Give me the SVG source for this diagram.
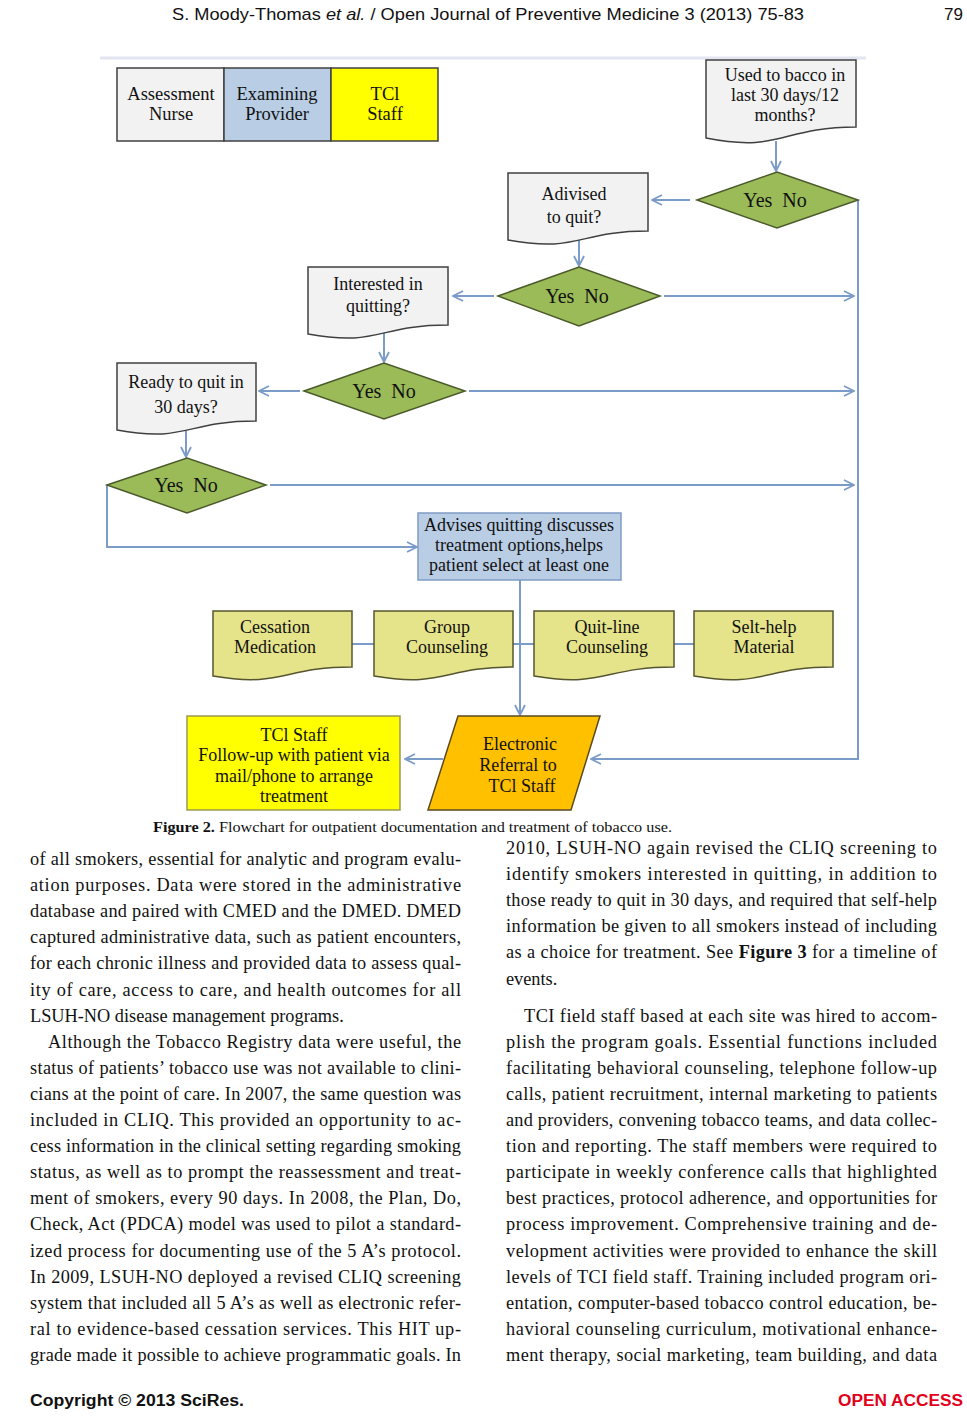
<svg xmlns="http://www.w3.org/2000/svg" width="967" height="1417" viewBox="0 0 967 1417">
<style>
.ft{font-family:"Liberation Serif","Times New Roman",serif;fill:#111;text-anchor:middle}
.f17{font-size:18px}
.f19{font-size:18.5px}
.fy{font-size:20px}
.body{font-family:"Liberation Serif","Times New Roman",serif;font-size:18.3px;fill:#111}
.doc{fill:#f2f2f2;stroke:#404040;stroke-width:1.5}
.tdoc{fill:#e6e48a;stroke:#55552f;stroke-width:1.5}
.dia{fill:#9bbb59;stroke:#4b5a2a;stroke-width:1.5}
.con{fill:none;stroke:#7b9bc8;stroke-width:2}
.conA{fill:none;stroke:#7b9bc8;stroke-width:2;marker-end:url(#arr)}
</style>
<defs>
<marker id="arr" viewBox="0 0 12 12" refX="11" refY="6" markerWidth="12" markerHeight="12" markerUnits="userSpaceOnUse" orient="auto">
<path d="M1,1 L11,6 L1,11" fill="none" stroke="#7b9bc8" stroke-width="1.8"/>
</marker>
</defs>
<rect x="0" y="0" width="967" height="1417" fill="#ffffff"/>
<g id="header">
<text x="172" y="20" font-family="Liberation Sans, Arial, sans-serif" font-size="17" fill="#111" textLength="632" lengthAdjust="spacingAndGlyphs">S. Moody-Thomas <tspan font-style="italic">et al.</tspan> / Open Journal of Preventive Medicine 3 (2013) 75-83</text>
<text x="963" y="20" font-family="Liberation Sans, Arial, sans-serif" font-size="17" fill="#111" text-anchor="end">79</text>
</g>
<line x1="100" y1="58" x2="866" y2="58" stroke="#e2e6f0" stroke-width="3"/>
<g id="connectors">
<line class="conA" x1="776" y1="141" x2="776" y2="171"/>
<line class="conA" x1="690" y1="200" x2="652" y2="200"/>
<line class="conA" x1="579" y1="237" x2="579" y2="266"/>
<line class="conA" x1="494" y1="296" x2="453" y2="296"/>
<line class="conA" x1="664" y1="296" x2="854" y2="296"/>
<line class="conA" x1="384" y1="332" x2="384" y2="362"/>
<line class="conA" x1="300" y1="391" x2="259" y2="391"/>
<line class="conA" x1="469" y1="391" x2="854" y2="391"/>
<line class="conA" x1="186" y1="427" x2="186" y2="457"/>
<line class="conA" x1="270" y1="485" x2="854" y2="485"/>
<polyline class="conA" points="107,485 107,547 417,547"/>
<line class="conA" x1="520" y1="580" x2="520" y2="715"/>
<line class="con" x1="352" y1="644" x2="694" y2="644"/>
<polyline class="conA" points="858,200 858,759 591,759"/>
<line class="conA" x1="443" y1="759" x2="405" y2="759"/>
</g>
<g id="legend">
<rect x="117" y="68" width="107" height="73" fill="#f2f2f2" stroke="#404040" stroke-width="1.5"/>
<rect x="224" y="68" width="107" height="73" fill="#b9cde5" stroke="#404040" stroke-width="1.5"/>
<rect x="331" y="68" width="107" height="73" fill="#ffff00" stroke="#404040" stroke-width="1.5"/>
<text class="ft f19" x="171" y="100">Assessment</text>
<text class="ft f19" x="171" y="120">Nurse</text>
<text class="ft f19" x="277" y="100">Examining</text>
<text class="ft f19" x="277" y="120">Provider</text>
<text class="ft f19" x="385" y="100">TCl</text>
<text class="ft f19" x="385" y="120">Staff</text>
</g>
<g id="n-used">
<path class="doc" d="M706,60 H856 V127 C781,127 781,153 706,138 Z"/>
<text class="ft f17" x="785" y="81">Used to bacco in</text>
<text class="ft f17" x="785" y="101">last 30 days/12</text>
<text class="ft f17" x="785" y="121">months?</text>
</g>
<g id="n-d1">
<polygon class="dia" points="697,200 777,172 858,200 777,228"/>
<text class="ft fy" x="775" y="207" xml:space="preserve" style="white-space:pre">Yes  No</text>
</g>
<g id="n-advised">
<path class="doc" d="M508,173 H648 V231 C578,231 578,253 508,240 Z"/>
<text class="ft f17" x="574" y="200">Adivised</text>
<text class="ft f17" x="574" y="223">to quit?</text>
</g>
<g id="n-d2">
<polygon class="dia" points="498,296 579,267 660,296 579,326"/>
<text class="ft fy" x="577" y="303" xml:space="preserve" style="white-space:pre">Yes  No</text>
</g>
<g id="n-interested">
<path class="doc" d="M308,267 H448 V325 C378,325 378,347 308,334 Z"/>
<text class="ft f17" x="378" y="290">Interested in</text>
<text class="ft f17" x="378" y="312">quitting?</text>
</g>
<g id="n-d3">
<polygon class="dia" points="304,391 384,363 465,391 384,419"/>
<text class="ft fy" x="384" y="398" xml:space="preserve" style="white-space:pre">Yes  No</text>
</g>
<g id="n-ready">
<path class="doc" d="M117,363 H256 V421 C186,421 186,443 117,430 Z"/>
<text class="ft f17" x="186" y="388">Ready to quit in</text>
<text class="ft f17" x="186" y="413">30 days?</text>
</g>
<g id="n-d4">
<polygon class="dia" points="107,485 187,458 266,485 187,513"/>
<text class="ft fy" x="186" y="492" xml:space="preserve" style="white-space:pre">Yes  No</text>
</g>
<g id="n-advises">
<rect x="418" y="513" width="203" height="67" fill="#b9cde5" stroke="#7f9cc4" stroke-width="1.5"/>
<text class="ft f17" x="519" y="531">Advises quitting discusses</text>
<text class="ft f17" x="519" y="551">treatment options,helps</text>
<text class="ft f17" x="519" y="571">patient select at least one</text>
</g>
<g id="n-cessation">
<path class="tdoc" d="M213,611 H352 V667 C283,667 283,688 213,676 Z"/>
<text class="ft f17" x="275" y="633">Cessation</text>
<text class="ft f17" x="275" y="653">Medication</text>
</g>
<g id="n-group">
<path class="tdoc" d="M374,611 H513 V667 C444,667 444,688 374,676 Z"/>
<text class="ft f17" x="447" y="633">Group</text>
<text class="ft f17" x="447" y="653">Counseling</text>
</g>
<g id="n-quitline">
<path class="tdoc" d="M534,611 H674 V667 C604,667 604,688 534,676 Z"/>
<text class="ft f17" x="607" y="633">Quit-line</text>
<text class="ft f17" x="607" y="653">Counseling</text>
</g>
<g id="n-selfhelp">
<path class="tdoc" d="M694,611 H833 V667 C764,667 764,688 694,676 Z"/>
<text class="ft f17" x="764" y="633">Selt-help</text>
<text class="ft f17" x="764" y="653">Material</text>
</g>
<g id="n-followup">
<rect x="187" y="716" width="213" height="94" fill="#ffff00" stroke="#9a9a50" stroke-width="1.5"/>
<text class="ft f17" x="294" y="741">TCl Staff</text>
<text class="ft f17" x="294" y="761">Follow-up with patient via</text>
<text class="ft f17" x="294" y="782">mail/phone to arrange</text>
<text class="ft f17" x="294" y="802">treatment</text>
</g>
<g id="n-electronic">
<polygon points="458,716 600,716 571,810 428,810" fill="#ffc000" stroke="#5a4a20" stroke-width="1.5"/>
<text class="ft f17" x="520" y="750">Electronic</text>
<text class="ft f17" x="518" y="771">Referral to</text>
<text class="ft f17" x="522" y="792">TCl Staff</text>
</g>
<g id="caption">
<text x="153" y="832" font-family="Liberation Serif, Times New Roman, serif" font-size="15" fill="#111" textLength="519" lengthAdjust="spacingAndGlyphs"><tspan font-weight="bold">Figure 2.</tspan> Flowchart for outpatient documentation and treatment of tobacco use.</text>
</g>
<g id="left-column" class="body">
<text x="30" y="865" textLength="431" lengthAdjust="spacing">of all smokers, essential for analytic and program evalu-</text>
<text x="30" y="891" textLength="431" lengthAdjust="spacing">ation purposes. Data were stored in the administrative</text>
<text x="30" y="917" textLength="431" lengthAdjust="spacing">database and paired with CMED and the DMED. DMED</text>
<text x="30" y="943" textLength="431" lengthAdjust="spacing">captured administrative data, such as patient encounters,</text>
<text x="30" y="969" textLength="431" lengthAdjust="spacing">for each chronic illness and provided data to assess qual-</text>
<text x="30" y="996" textLength="431" lengthAdjust="spacing">ity of care, access to care, and health outcomes for all</text>
<text x="30" y="1022">LSUH-NO disease management programs.</text>
<text x="48" y="1048" textLength="413" lengthAdjust="spacing">Although the Tobacco Registry data were useful, the</text>
<text x="30" y="1074" textLength="431" lengthAdjust="spacing">status of patients’ tobacco use was not available to clini-</text>
<text x="30" y="1100" textLength="431" lengthAdjust="spacing">cians at the point of care. In 2007, the same question was</text>
<text x="30" y="1126" textLength="431" lengthAdjust="spacing">included in CLIQ. This provided an opportunity to ac-</text>
<text x="30" y="1152" textLength="431" lengthAdjust="spacing">cess information in the clinical setting regarding smoking</text>
<text x="30" y="1178" textLength="431" lengthAdjust="spacing">status, as well as to prompt the reassessment and treat-</text>
<text x="30" y="1204" textLength="431" lengthAdjust="spacing">ment of smokers, every 90 days. In 2008, the Plan, Do,</text>
<text x="30" y="1230" textLength="431" lengthAdjust="spacing">Check, Act (PDCA) model was used to pilot a standard-</text>
<text x="30" y="1257" textLength="431" lengthAdjust="spacing">ized process for documenting use of the 5 A’s protocol.</text>
<text x="30" y="1283" textLength="431" lengthAdjust="spacing">In 2009, LSUH-NO deployed a revised CLIQ screening</text>
<text x="30" y="1309" textLength="431" lengthAdjust="spacing">system that included all 5 A’s as well as electronic refer-</text>
<text x="30" y="1335" textLength="431" lengthAdjust="spacing">ral to evidence-based cessation services. This HIT up-</text>
<text x="30" y="1361" textLength="431" lengthAdjust="spacing">grade made it possible to achieve programmatic goals. In</text>
</g>
<g id="right-column" class="body">
<text x="506" y="854" textLength="431" lengthAdjust="spacing">2010, LSUH-NO again revised the CLIQ screening to</text>
<text x="506" y="880" textLength="431" lengthAdjust="spacing">identify smokers interested in quitting, in addition to</text>
<text x="506" y="906" textLength="431" lengthAdjust="spacing">those ready to quit in 30 days, and required that self-help</text>
<text x="506" y="932" textLength="431" lengthAdjust="spacing">information be given to all smokers instead of including</text>
<text x="506" y="958" textLength="431" lengthAdjust="spacing">as a choice for treatment. See <tspan font-weight="bold">Figure 3</tspan> for a timeline of</text>
<text x="506" y="985">events.</text>
<text x="524" y="1022" textLength="413" lengthAdjust="spacing">TCI field staff based at each site was hired to accom-</text>
<text x="506" y="1048" textLength="431" lengthAdjust="spacing">plish the program goals. Essential functions included</text>
<text x="506" y="1074" textLength="431" lengthAdjust="spacing">facilitating behavioral counseling, telephone follow-up</text>
<text x="506" y="1100" textLength="431" lengthAdjust="spacing">calls, patient recruitment, internal marketing to patients</text>
<text x="506" y="1126" textLength="431" lengthAdjust="spacing">and providers, convening tobacco teams, and data collec-</text>
<text x="506" y="1152" textLength="431" lengthAdjust="spacing">tion and reporting. The staff members were required to</text>
<text x="506" y="1178" textLength="431" lengthAdjust="spacing">participate in weekly conference calls that highlighted</text>
<text x="506" y="1204" textLength="431" lengthAdjust="spacing">best practices, protocol adherence, and opportunities for</text>
<text x="506" y="1230" textLength="431" lengthAdjust="spacing">process improvement. Comprehensive training and de-</text>
<text x="506" y="1257" textLength="431" lengthAdjust="spacing">velopment activities were provided to enhance the skill</text>
<text x="506" y="1283" textLength="431" lengthAdjust="spacing">levels of TCI field staff. Training included program ori-</text>
<text x="506" y="1309" textLength="431" lengthAdjust="spacing">entation, computer-based tobacco control education, be-</text>
<text x="506" y="1335" textLength="431" lengthAdjust="spacing">havioral counseling curriculum, motivational enhance-</text>
<text x="506" y="1361" textLength="431" lengthAdjust="spacing">ment therapy, social marketing, team building, and data</text>
</g>
<g id="footer">
<text x="30" y="1406" font-family="Liberation Sans, Arial, sans-serif" font-size="16" font-weight="bold" fill="#111" textLength="214" lengthAdjust="spacingAndGlyphs">Copyright © 2013 SciRes.</text>
<text x="838" y="1406" font-family="Liberation Sans, Arial, sans-serif" font-size="16" font-weight="bold" fill="#e3001b" textLength="125" lengthAdjust="spacingAndGlyphs">OPEN ACCESS</text>
</g>
</svg>
